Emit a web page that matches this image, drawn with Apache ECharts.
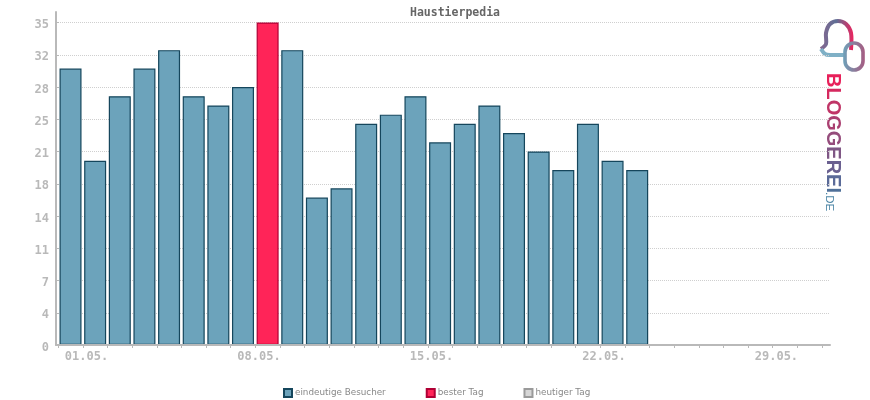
<!DOCTYPE html>
<html>
<head>
<meta charset="utf-8">
<style>html,body{margin:0;padding:0;background:#fff}#main{width:870px;height:400px}</style>
<script src="https://cdn.jsdelivr.net/npm/echarts@6/dist/echarts.min.js"></script>
</head>
<body>
<div id="main"></div>
<script>
var days = [];
var dayIdx = [];
for (var d = 1; d <= 31; d++) { days.push((d < 10 ? '0' + d : d) + '.05.'); dayIdx.push(d - 1); }
// der 09. ist der beste Tag und liegt in bestDay, nicht in visitors
var visitors = [30,20,27,30,32,27,26,28,null,32,16,17,24,25,27,22,24,26,23,21,19,24,20,19];
var bestDay = [null,null,null,null,null,null,null,null,35];
var today = [];
var yTicks = [0,3.5,7,10.5,14,17.5,21,24.5,28,31.5,35];
var xLabelIdx = [0,7,14,21,28];
var yMax = 36.14;
var logoText = 'BLOGGEREI';
var logoColors = ['e8205a','d5295f','c03567','aa4071','954c7c','7f5785','6a6090','5a6a98','4f7099'];

var chart = echarts.init(document.getElementById('main'));
var monoFont = '"DejaVu Sans Mono", monospace';
var grey = '#b9b9b9';

// logo: jeder buchstabe eigene farbe
var logoRich = {};
var logoStr = '';
logoText.split('').forEach(function (ch, i) {
	logoRich['c' + i] = { fill: '#' + logoColors[i], fontFamily: '"Liberation Sans", sans-serif', fontWeight: 'bold', fontSize: 20 };
	logoStr += '{c' + i + '|' + ch + '}';
});

var option = {
	animation: false,
	title: {
		text: 'Haustierpedia',
		left: 450, top: 2, textAlign: 'center',
		textStyle: { fontFamily: monoFont, fontSize: 11.5, fontWeight: 'bold', color: '#666' }
	},
	legend: {
		left: 278, top: 383, itemWidth: 8, itemHeight: 8, itemGap: 40, icon: 'rect',
		data: ['eindeutige Besucher', 'bester Tag', 'heutiger Tag'],
		textStyle: { fontFamily: '"DejaVu Sans", sans-serif', fontSize: 8.8, color: '#888', padding: [0, 0, 0, -2] }
	},
	grid: [
		{ left: 58.2, width: 763.8, top: 12, bottom: 55 },  // balken
		{ left: 56, width: 774, top: 12, bottom: 55 }       // achsen, gitter
	],
	xAxis: [
		{
			type: 'category', gridIndex: 0, data: days, z: 3,
			axisLine: { show: false },
			axisTick: { show: true, customValues: dayIdx, length: 3, lineStyle: { color: grey } },
			axisLabel: {
				customValues: xLabelIdx, margin: 6, padding: [0, 0, 0, 32], hideOverlap: false,
				fontFamily: monoFont, fontSize: 12, fontWeight: 'bold', color: grey
			}
		},
		{
			type: 'value', gridIndex: 1, min: 0, max: 1, z: 3,
			axisLine: { show: true, onZero: false, lineStyle: { color: grey, width: 2 } },
			axisTick: { show: false }, axisLabel: { show: false }, splitLine: { show: false }
		}
	],
	yAxis: [
		{ type: 'value', gridIndex: 0, min: 0, max: yMax, show: false, splitLine: { show: false } },
		{
			type: 'value', gridIndex: 1, min: 0, max: yMax,
			axisLine: { show: true, lineStyle: { color: grey, width: 2 } },
			axisTick: { show: true, inside: true, length: 3, customValues: yTicks, lineStyle: { color: grey } },
			axisLabel: {
				customValues: yTicks, margin: 7, verticalAlign: 'top', lineHeight: 5,
				formatter: function (v) { return Math.round(v); },
				fontFamily: monoFont, fontSize: 12, fontWeight: 'bold', color: grey
			},
			splitLine: { show: true, lineStyle: { color: '#cfcfcf', type: 'dotted', width: 1 } }
		}
	],
	series: [
		{
			name: 'eindeutige Besucher', type: 'bar', xAxisIndex: 0, yAxisIndex: 0, data: visitors,
			barWidth: 22, barGap: '-100%',
			itemStyle: { color: '#6ca3bb', borderColor: '#15465c', borderWidth: 1.2 }
		},
		{
			name: 'bester Tag', type: 'bar', xAxisIndex: 0, yAxisIndex: 0, data: bestDay,
			barWidth: 22, barGap: '-100%',
			itemStyle: { color: '#ff2458', borderColor: '#b00035', borderWidth: 1.2 }
		},
		{
			name: 'heutiger Tag', type: 'bar', xAxisIndex: 0, yAxisIndex: 0, data: today,
			barWidth: 22, barGap: '-100%',
			itemStyle: { color: '#d6d6d6', borderColor: '#9a9a9a', borderWidth: 1.2 }
		}
	],
	graphic: [
		// logo
		{
			type: 'polyline', silent: true,
			shape: { points: [[851,50],[851,33],[846,24],[838,21],[830,24],[826,33],[826,44],[821,49]], smooth: 0.3 },
			style: { fill: 'none', lineWidth: 4, stroke: new echarts.graphic.LinearGradient(0, 0, 1, 0, [
				{ offset: 0, color: '#8a6690' }, { offset: 0.5, color: '#5f6f95' }, { offset: 1, color: '#f0215c' }]) }
		},
		{
			type: 'polyline', silent: true,
			shape: { points: [[821,49],[825,54],[830,55],[844,55]], smooth: 0.3 },
			style: { fill: 'none', lineWidth: 4, stroke: '#7fb0c6' }
		},
		{
			type: 'rect', silent: true,
			shape: { x: 845, y: 43, width: 18, height: 27, r: 9 },
			style: { fill: 'none', lineWidth: 3.6, stroke: new echarts.graphic.LinearGradient(0, 0, 1, 0, [
				{ offset: 0, color: '#6ca3bb' }, { offset: 1, color: '#a8597f' }]) }
		},
		{
			type: 'text', silent: true, x: 823, y: 73, rotation: -Math.PI / 2,
			style: {
				text: logoStr, rich: logoRich,
				textAlign: 'left', textVerticalAlign: 'bottom'
			}
		},
		{
			type: 'text', silent: true, x: 823, y: 192, rotation: -Math.PI / 2,
			style: {
				text: '.DE', fontFamily: '"Liberation Sans", sans-serif', fontSize: 11.5,
				textAlign: 'left', textVerticalAlign: 'bottom', fill: '#4d86a6'
			}
		}
	]
};
chart.setOption(option);
</script>
</body>
</html>
